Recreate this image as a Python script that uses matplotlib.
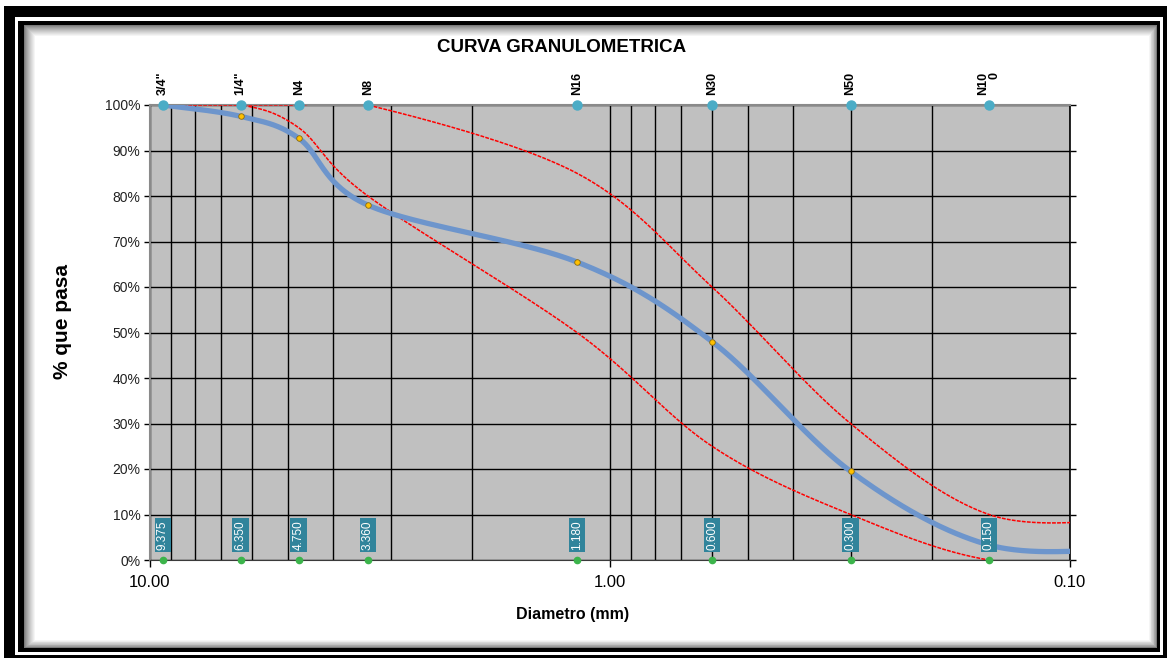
import numpy as np
import matplotlib
matplotlib.use("Agg")
import matplotlib.pyplot as plt
from matplotlib.patches import Rectangle
from matplotlib.ticker import FixedLocator, FixedFormatter, NullFormatter

# ---------------- data ----------------
sieve_names = ['3/4"', '1/4"', 'N4', 'N8', 'N16', 'N30', 'N50', 'N10\n0']
sieve_mm = [9.375, 6.35, 4.75, 3.36, 1.18, 0.60, 0.30, 0.15]
size_labels = ['9.375', '6.350', '4.750', '3.360', '1.180', '0.600', '0.300', '0.150']
pct_passing = [100.0, 97.5, 92.7, 78.0, 65.5, 48.0, 19.5, 3.3]
upper_limit = [100, 100, 100, 100, 85, 60, 30, 10]
lower_limit = [100, 100, 95, 80, 50, 25, 10, 0]
# pan / N200 point, drawn beyond the axis limit (only its approach is visible)
tail_mm = 0.075
tail_passing = 2.5
tail_upper = 8.9
tail_lower = 0.0
x_ticks = [10.0, 1.0, 0.1]
x_ticklabels = ['10.00', '1.00', '0.10']
y_ticks = [0, 10, 20, 30, 40, 50, 60, 70, 80, 90, 100]
y_ticklabels = [f'{v}%' for v in y_ticks]

plt.rcParams['font.family'] = ['Liberation Sans', 'DejaVu Sans']

W, H = 1170, 660
fig = plt.figure(figsize=(W / 100, H / 100), dpi=100)
fig.patch.set_facecolor('white')


def rect(x0, y0, x1, y1, color, z=0):
    fig.add_artist(Rectangle((x0 / W, 1 - y1 / H), (x1 - x0) / W, (y1 - y0) / H,
                             transform=fig.transFigure, facecolor=color,
                             edgecolor='none', zorder=z))


# frame
rect(4, 6, 1167, 658, 'black', -10)
rect(15, 17, 1163, 655, 'white', -9)
rect(18, 21, 1160, 652, 'black', -8)
rect(24, 25, 1157, 648, '#7a7a7a', -7)
for k in range(1, 12):
    g = 0.48 + 0.52 * (k / 11) ** 0.8
    rect(24 + k, 25 + k, 1157 - k * 0.7, 648 - k * 0.7, (g, g, g), -7 + k * 0.01)
rect(36, 37, 1149, 640, 'white', -6)


def smooth(xs, ys, n=60):
    P = np.column_stack([np.log10(np.asarray(xs, float)), np.asarray(ys, float)])
    Pe = np.vstack([P[0], P, P[-1]])
    out = []
    t = np.linspace(0, 1, n)[:, None]
    for i in range(len(P) - 1):
        p0, p3 = Pe[i + 1], Pe[i + 2]
        c1 = p0 + (Pe[i + 2] - Pe[i]) / 6.0
        c2 = p3 - (Pe[i + 3] - Pe[i + 1]) / 6.0
        seg = ((1 - t) ** 3) * p0 + 3 * ((1 - t) ** 2) * t * c1 + 3 * (1 - t) * t ** 2 * c2 + t ** 3 * p3
        out.append(seg if i == 0 else seg[1:])
    C = np.vstack(out)
    return 10 ** C[:, 0], C[:, 1]


ax = fig.add_axes([150 / W, 1 - 560 / H, 920 / W, 455 / H])
ax.set_facecolor('#c0c0c0')
ax.set_xscale('log')
ax.set_xlim(10, 0.1)
ax.set_ylim(0, 100)

ax.xaxis.set_major_locator(FixedLocator(x_ticks))
ax.xaxis.set_major_formatter(FixedFormatter(x_ticklabels))
minor = [m * d for d in (1.0, 0.1) for m in range(2, 10)]
ax.xaxis.set_minor_locator(FixedLocator(minor))
ax.xaxis.set_minor_formatter(NullFormatter())
ax.set_yticks(y_ticks)
ax.set_yticklabels(y_ticklabels)

ax.grid(True, which='both', axis='x', color='black', lw=1.0, zorder=1)
ax.grid(True, which='major', axis='y', color='black', lw=1.0, zorder=1)
ax.set_axisbelow(True)
ax.tick_params(axis='x', which='major', direction='out', length=5, width=1,
               labelsize=12, pad=6, colors='black')
ax.tick_params(axis='x', which='minor', length=0)
ax.tick_params(axis='y', which='major', direction='out', length=4, width=1,
               labelsize=10, pad=3, right=True, colors='black')
for lab in ax.get_yticklabels():
    lab.set_color('#222222')

for s in ('left', 'top'):
    ax.spines[s].set_color('#8a8a8a')
    ax.spines[s].set_linewidth(1.5)
ax.spines['bottom'].set_color('#3a3a3a')
ax.spines['right'].set_color('black')
ax.spines['right'].set_linewidth(1.2)

# limit curves
ux, uy = smooth(sieve_mm + [tail_mm], upper_limit + [tail_upper])
lx, ly = smooth(sieve_mm + [tail_mm], lower_limit + [tail_lower])
ax.plot(ux, uy, color='#ff0000', lw=1.1, ls=(0, (2.5, 0.8)), zorder=3)
ax.plot(lx, ly, color='#ff0000', lw=1.1, ls=(0, (2.5, 0.8)), zorder=3)

# gradation curve
bx, by = smooth(sieve_mm + [tail_mm], pct_passing + [tail_passing])
ax.plot(bx, by, color='#6d95cc', lw=3.8, solid_capstyle='round', zorder=4)
ax.plot(sieve_mm, pct_passing, 'o', ms=4, mfc='#ffc000', mec='#8a6a10', mew=0.6, zorder=5)

# sieve markers top / bottom
ax.plot(sieve_mm, [100] * len(sieve_mm), 'o', ms=6.5, color='#4bacc6', clip_on=False, zorder=6)
ax.plot(sieve_mm, [0] * len(sieve_mm), 'o', ms=4.5, color='#3cb44b', clip_on=False, zorder=6)

for x, name in zip(sieve_mm, sieve_names):
    ax.annotate(name, (x, 100), xytext=(0, 7), textcoords='offset points',
                rotation=90, ha='center', va='bottom', fontsize=9,
                fontweight='bold', multialignment='right', annotation_clip=False,
                linespacing=1.0)

for x, lab in zip(sieve_mm, size_labels):
    ax.text(x, 5.5, lab, rotation=90, ha='center', va='center', fontsize=8.5,
            color='white', zorder=7,
            bbox=dict(boxstyle='square,pad=0.2', fc='#31849b', ec='none'))

fig.text(562 / W, 1 - 48 / H, 'CURVA GRANULOMETRICA', ha='center', va='center',
         fontsize=13.5, fontweight='bold')
fig.text(573 / W, 1 - 615 / H, 'Diametro (mm)', ha='center', va='center',
         fontsize=11.5, fontweight='bold')
fig.text(62 / W, 1 - 322 / H, '% que pasa', ha='center', va='center', rotation=90,
         fontsize=15, fontweight='bold')

fig.savefig('out.png', dpi=100, facecolor='white')
